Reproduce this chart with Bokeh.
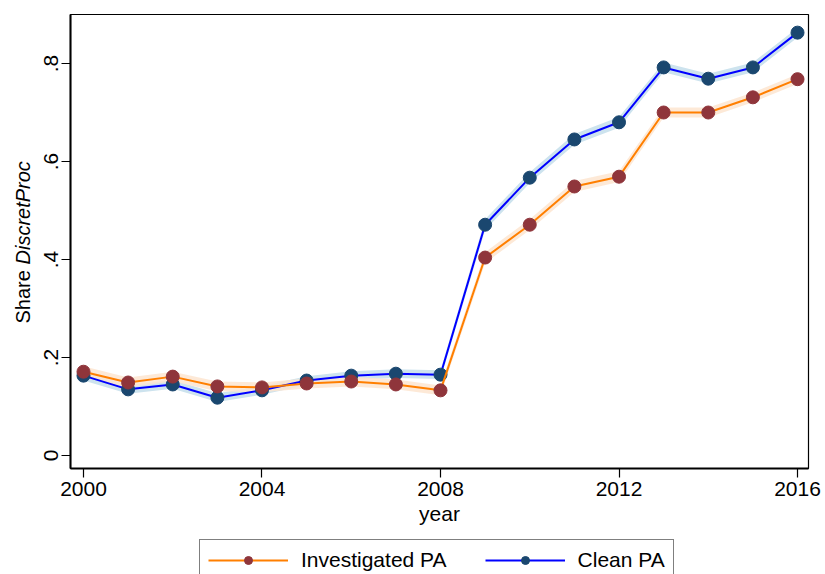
import math
from bokeh.plotting import figure
from bokeh.models import Range1d, FixedTicker, Legend, LegendItem, ColumnDataSource
from bokeh.layouts import row, column
from bokeh.core.properties import value
from bokeh.embed import file_html
from bokeh.resources import INLINE

# ---- data ----
years = [2000, 2001, 2002, 2003, 2004, 2005, 2006, 2007, 2008,
         2009, 2010, 2011, 2012, 2013, 2014, 2015, 2016]
investigated = [0.171, 0.149, 0.161, 0.141, 0.139, 0.147, 0.151, 0.145, 0.133,
                0.404, 0.471, 0.549, 0.569, 0.700, 0.700, 0.731, 0.768]
clean = [0.163, 0.135, 0.145, 0.118, 0.133, 0.153, 0.163, 0.167, 0.165,
         0.471, 0.567, 0.645, 0.680, 0.792, 0.769, 0.792, 0.863]
investigated_se = [0.011, 0.010, 0.010, 0.010, 0.010, 0.010, 0.010, 0.010, 0.010,
                   0.011, 0.011, 0.011, 0.011, 0.010, 0.010, 0.010, 0.010]
clean_se = [0.010, 0.009, 0.009, 0.009, 0.009, 0.009, 0.009, 0.009, 0.009,
            0.011, 0.011, 0.011, 0.011, 0.010, 0.010, 0.010, 0.010]

x_ticks = [2000, 2004, 2008, 2012, 2016]
y_ticks = [0, 0.2, 0.4, 0.6, 0.8]
y_tick_labels = ["0", ".2", ".4", ".6", ".8"]
series_names = ["Investigated PA", "Clean PA"]
y_title = ["Share", "DiscretProc"]
x_title = "year"

FONT = "Liberation Sans"
ORANGE = "#ff7f00"
BLUE = "#0000ff"
CRANBERRY = "#8f353b"
NAVY = "#1a476f"
BAND_BLUE = "#cde3ee"
BAND_ORANGE = "#fde5d0"

src = ColumnDataSource(dict(
    year=years,
    inv=investigated, inv_lo=[v - s for v, s in zip(investigated, investigated_se)],
    inv_hi=[v + s for v, s in zip(investigated, investigated_se)],
    cln=clean, cln_lo=[v - s for v, s in zip(clean, clean_se)],
    cln_hi=[v + s for v, s in zip(clean, clean_se)],
))

MAIN_H = 538

# ---------------- main plot ----------------
p = figure(width=791, height=MAIN_H, output_backend="svg", toolbar_location=None,
           title=None, frame_align=False,
           x_range=Range1d(1999.709, 2016.246), y_range=Range1d(-0.0265, 0.9),
           min_border_left=36, min_border_right=17, min_border_top=14, min_border_bottom=70)

p.background_fill_color = "white"
p.border_fill_color = "white"
p.outline_line_color = "black"
p.outline_line_width = 1.2
p.xgrid.visible = False
p.ygrid.visible = False

p.varea(x="year", y1="cln_lo", y2="cln_hi", source=src, fill_color=BAND_BLUE, fill_alpha=1)
p.varea(x="year", y1="inv_lo", y2="inv_hi", source=src, fill_color=BAND_ORANGE, fill_alpha=0.85)

p.line(x="year", y="cln", source=src, line_color=BLUE, line_width=2)
p.scatter(x="year", y="cln", source=src, size=13, fill_color=NAVY, line_color=NAVY)
p.line(x="year", y="inv", source=src, line_color=ORANGE, line_width=2)
p.scatter(x="year", y="inv", source=src, size=13, fill_color=CRANBERRY, line_color=CRANBERRY)

for ax in (p.xaxis[0], p.yaxis[0]):
    ax.axis_line_color = "black"
    ax.axis_line_width = 2
    ax.major_tick_line_color = "black"
    ax.major_tick_line_width = 1.2
    ax.major_tick_in = 0
    ax.major_tick_out = 9
    ax.minor_tick_line_color = None
    ax.major_label_text_font = FONT
    ax.major_label_text_font_size = "21px"
    ax.major_label_text_color = "black"

p.xaxis.ticker = FixedTicker(ticks=x_ticks)
p.xaxis.major_label_standoff = 4
p.xaxis.axis_label = x_title
p.xaxis.axis_label_text_font = FONT
p.xaxis.axis_label_text_font_size = "21px"
p.xaxis.axis_label_text_font_style = "normal"
p.xaxis.axis_label_text_color = "black"
p.xaxis.axis_label_standoff = 3

p.yaxis.ticker = FixedTicker(ticks=y_ticks)
p.yaxis.major_label_overrides = {t: lab for t, lab in zip(y_ticks, y_tick_labels)}
p.yaxis.major_label_orientation = "vertical"
p.yaxis.major_label_standoff = 3

# ---------------- y title strip ----------------
LW = 34
yl = figure(width=LW, height=MAIN_H, output_backend="svg", toolbar_location=None,
            title=None, x_axis_type=None, y_axis_type=None, frame_align=False,
            x_range=Range1d(0, LW), y_range=Range1d(0, MAIN_H),
            min_border_left=0, min_border_right=0, min_border_top=0, min_border_bottom=0)
yl.outline_line_color = None
yl.xgrid.visible = False
yl.ygrid.visible = False
yl.text(x=[22], y=[MAIN_H - 323], text=[y_title[0]], angle=math.pi / 2,
        text_align="left", text_baseline="middle",
        text_font=value(FONT), text_font_size="20px", text_color="black")
yl.text(x=[22], y=[MAIN_H - 264], text=[y_title[1]], angle=math.pi / 2,
        text_align="left", text_baseline="middle",
        text_font=value(FONT), text_font_size="20px", text_font_style="italic",
        text_color="black")

# ---------------- legend strip ----------------
LH = 574 - MAIN_H
lg = figure(width=825, height=LH, output_backend="svg", toolbar_location=None,
            title=None, x_axis_type=None, y_axis_type=None, frame_align=False,
            x_range=Range1d(0, 1), y_range=Range1d(0, 1),
            min_border_left=198, min_border_right=0, min_border_top=0, min_border_bottom=0)
lg.outline_line_color = None
lg.xgrid.visible = False
lg.ygrid.visible = False
# legend-only renderers (their data lies outside this strip's ranges)
li = lg.line(x=years, y=investigated, line_color=ORANGE, line_width=2)
mi = lg.scatter(x=years, y=investigated, size=12, fill_color=CRANBERRY, line_color=CRANBERRY)
lc = lg.line(x=years, y=clean, line_color=BLUE, line_width=2)
mc = lg.scatter(x=years, y=clean, size=12, fill_color=NAVY, line_color=NAVY)

legend = Legend(items=[
    LegendItem(label=series_names[0], renderers=[li, mi]),
    LegendItem(label=series_names[1], renderers=[lc, mc]),
], orientation="horizontal", location="top_left")
legend.label_text_font = FONT
legend.label_text_font_size = "21px"
legend.label_text_color = "black"
legend.glyph_width = 80
legend.glyph_height = 20
legend.label_height = 20
legend.label_standoff = 13
legend.spacing = 38
legend.padding = 8
legend.margin = 1
legend.border_line_color = "black"
legend.border_line_width = 1.2
legend.background_fill_color = "white"
legend.background_fill_alpha = 1
lg.add_layout(legend, "center")

layout = column(row(yl, p, spacing=0), lg, spacing=0)
open("out.html", "w").write(file_html(layout, INLINE))
